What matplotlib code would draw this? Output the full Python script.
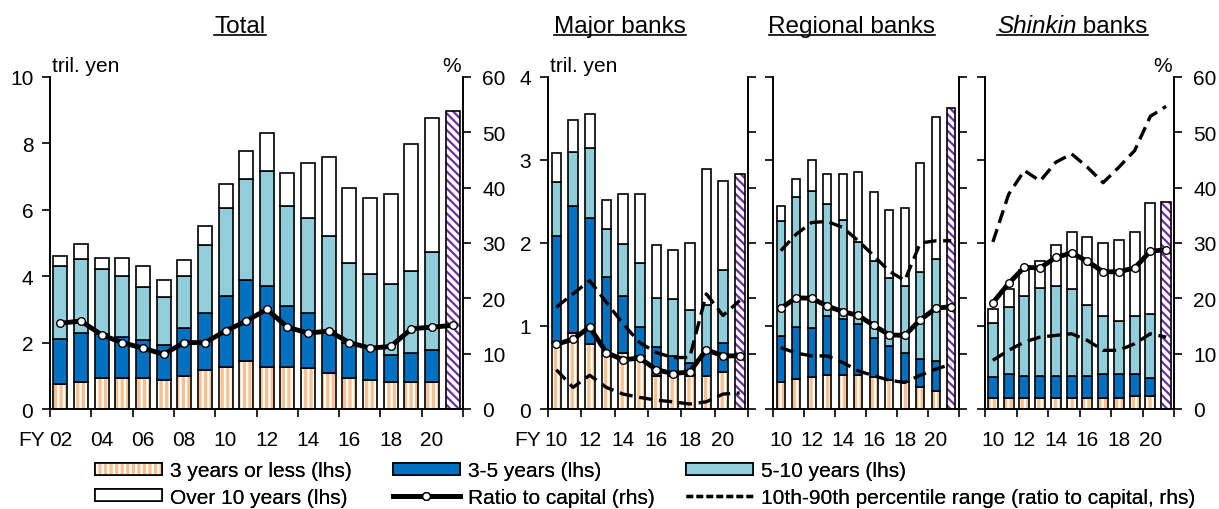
import matplotlib.pyplot as plt
import numpy as np
from matplotlib.patches import Patch
from matplotlib.lines import Line2D
from matplotlib import transforms

plt.rcParams['font.family'] = ['Liberation Sans', 'DejaVu Sans']
plt.rcParams['hatch.linewidth'] = 1.6

# ---- data (tril. yen, FY) ----
years_total = ['02', '03', '04', '05', '06', '07', '08', '09', '10', '11',
               '12', '13', '14', '15', '16', '17', '18', '19', '20', '21']
years_bank = ['10', '11', '12', '13', '14', '15', '16', '17', '18', '19', '20', '21']

# Total (FY02-FY20), FY21 is a single hatched bar
tot_3y = [0.76, 0.81, 0.93, 0.93, 0.93, 0.88, 0.99, 1.16, 1.27, 1.45, 1.27, 1.27, 1.22, 1.09, 0.93, 0.88, 0.81, 0.81, 0.81]
tot_3to5 = [1.34, 1.49, 1.32, 1.25, 1.15, 1.06, 1.44, 1.73, 2.12, 2.43, 2.43, 1.82, 1.66, 1.26, 1.07, 0.97, 0.83, 0.89, 0.96]
tot_5to10 = [2.20, 2.23, 1.97, 1.84, 1.59, 1.42, 1.57, 2.05, 2.66, 3.06, 3.46, 3.01, 2.87, 2.86, 2.41, 2.22, 2.13, 2.45, 2.97]
tot_over10 = [0.31, 0.43, 0.32, 0.52, 0.63, 0.54, 0.49, 0.56, 0.72, 0.82, 1.14, 1.01, 1.66, 2.38, 2.24, 2.28, 2.70, 3.84, 4.03]
tot_fy21 = 8.98
tot_ratio = [15.5, 15.9, 13.4, 12.0, 11.0, 9.9, 12.0, 12.0, 14.1, 15.9, 18.0, 14.8, 13.7, 14.1, 12.0, 11.0, 11.3, 14.5, 14.8, 15.1]

# Major banks (FY10-FY20), FY21 hatched
maj_3y = [0.80, 0.92, 0.78, 0.68, 0.67, 0.64, 0.40, 0.40, 0.40, 0.40, 0.45]
maj_3to5 = [1.29, 1.52, 1.52, 0.91, 0.69, 0.35, 0.35, 0.24, 0.15, 0.30, 0.34]
maj_5to10 = [0.65, 0.66, 0.85, 0.58, 0.63, 0.77, 0.59, 0.68, 0.64, 0.55, 0.88]
maj_over10 = [0.34, 0.38, 0.41, 0.35, 0.60, 0.83, 0.63, 0.60, 0.81, 1.64, 1.08]
maj_fy21 = 2.83
maj_ratio = [11.7, 12.6, 14.8, 10.2, 8.9, 9.2, 7.1, 6.4, 6.7, 10.7, 9.6, 9.6]
maj_p90 = [18.4, 20.8, 23.2, 19.3, 15.4, 12.0, 10.2, 9.3, 9.3, 20.8, 16.9, 19.6]
maj_p10 = [7.1, 3.9, 6.1, 3.9, 2.7, 2.1, 1.6, 1.3, 0.9, 1.3, 2.7, 2.9]

# Regional banks
reg_3y = [0.32, 0.36, 0.39, 0.41, 0.41, 0.41, 0.39, 0.35, 0.32, 0.27, 0.22]
reg_3to5 = [0.56, 0.63, 0.59, 0.71, 0.67, 0.61, 0.47, 0.41, 0.35, 0.33, 0.36]
reg_5to10 = [1.38, 1.57, 1.65, 1.35, 1.20, 0.99, 0.92, 0.82, 0.81, 1.05, 1.23]
reg_over10 = [0.18, 0.21, 0.37, 0.36, 0.55, 0.84, 0.83, 0.82, 0.94, 1.31, 1.71]
reg_fy21 = 3.63
reg_ratio = [18.2, 20.1, 20.0, 18.6, 17.6, 16.9, 15.1, 13.4, 13.3, 16.1, 18.2, 18.5]
reg_p90 = [28.6, 31.6, 33.7, 33.9, 32.8, 30.4, 27.7, 24.9, 23.2, 30.0, 30.4, 30.4]
reg_p10 = [11.1, 10.1, 9.6, 9.6, 8.4, 6.9, 6.0, 5.2, 4.8, 6.1, 7.2, 8.1]

# Shinkin banks
shi_3y = [0.13, 0.13, 0.13, 0.13, 0.13, 0.13, 0.13, 0.13, 0.13, 0.16, 0.16]
shi_3to5 = [0.26, 0.29, 0.27, 0.27, 0.27, 0.27, 0.27, 0.29, 0.29, 0.26, 0.21]
shi_5to10 = [0.65, 0.81, 0.96, 1.06, 1.08, 1.04, 0.85, 0.70, 0.64, 0.70, 0.77]
shi_over10 = [0.17, 0.22, 0.31, 0.32, 0.49, 0.69, 0.82, 0.88, 0.98, 1.01, 1.34]
shi_fy21 = 2.50
shi_ratio = [19.2, 22.7, 25.6, 25.5, 27.4, 28.2, 26.7, 24.8, 24.8, 25.5, 28.5, 28.8]
shi_p90 = [30.2, 38.8, 43.1, 41.2, 44.6, 46.1, 43.7, 40.9, 43.7, 46.7, 52.9, 54.7]
shi_p10 = [8.8, 10.6, 12.1, 13.0, 13.3, 13.6, 12.4, 10.6, 10.6, 11.8, 13.6, 13.0]

# ---- style ----
C_ORANGE = '#FAC090'
C_BLUE = '#0070C0'
C_LBLUE = '#92CDDC'
C_PURPLE = '#7030A0'
EDGE_LW = 1.2
FS_TICK = 15
FS_TITLE = 17.5
FS_LEG = 15
XPAD = 15

W, H = 1219, 510
fig = plt.figure(figsize=(W / 100, H / 100), dpi=100)


def rect(x0, x1, y0=78, y1=410):
    return [x0 / W, 1 - y1 / H, (x1 - x0) / W, (y1 - y0) / H]


def draw_panel(ax, years, s3, s35, s510, s10, fy21, ratio, width,
               p90=None, p10=None, left_labels=True, right_labels=False, fy=False):
    n = len(years)
    x = np.arange(n - 1)
    bottom = np.zeros(n - 1)
    # 3 years or less: striped orange
    ax.bar(x, s3, width, bottom=bottom, color=C_ORANGE, hatch='|||',
           edgecolor='white', linewidth=0, zorder=2)
    ax.bar(x, s3, width, bottom=bottom, color='none', edgecolor='black',
           linewidth=EDGE_LW, zorder=3)
    bottom += np.array(s3)
    for vals, col in [(s35, C_BLUE), (s510, C_LBLUE), (s10, 'white')]:
        ax.bar(x, vals, width, bottom=bottom, color=col, edgecolor='black',
               linewidth=EDGE_LW, zorder=3)
        bottom += np.array(vals)
    ax.bar([n - 1], [fy21], width, color='white', hatch='\\\\\\\\',
           edgecolor=C_PURPLE, linewidth=0, zorder=2)
    ax.bar([n - 1], [fy21], width, color='none', edgecolor='black',
           linewidth=EDGE_LW, zorder=3)

    ax.set_xlim(-0.5, n - 0.5)
    ax.set_xticks(np.arange(0, n - 1, 2))
    ax.set_xticklabels(years[0:n - 1:2])
    ax.set_xticks(np.arange(-0.5, n, 2), minor=True)
    ax.tick_params(axis='x', which='major', length=0, pad=XPAD, labelsize=FS_TICK)
    ax.tick_params(axis='x', which='minor', length=6, width=1.2, direction='out')
    ax.spines['top'].set_visible(False)
    for s in ['left', 'right', 'bottom']:
        ax.spines[s].set_linewidth(1.2)
    ax.tick_params(axis='y', length=6, width=1.2, labelsize=FS_TICK, pad=6,
                   labelleft=left_labels)
    if fy:
        ax.text(0, 0, 'FY', transform=transforms.offset_copy(
            ax.get_xaxis_transform(), fig=fig, x=-11, y=-XPAD, units='points'),
            ha='right', va='top', fontsize=FS_TICK)

    ax2 = ax.twinx()
    ax2.set_ylim(0, 60)
    ax2.set_yticks(range(0, 61, 10))
    ax2.spines['top'].set_visible(False)
    for s in ['left', 'right', 'bottom']:
        ax2.spines[s].set_linewidth(1.2)
    ax2.tick_params(axis='y', length=6, width=1.2, labelsize=FS_TICK, pad=8,
                    labelright=right_labels)
    xl = np.arange(n)
    if p90 is not None:
        ax2.plot(xl, p90, color='black', lw=2.4, dashes=(4, 2), zorder=4)
        ax2.plot(xl, p10, color='black', lw=2.4, dashes=(4, 2), zorder=4)
    ax2.plot(xl, ratio, color='black', lw=3.5, marker='o', markersize=5.5,
             markerfacecolor='white', markeredgecolor='black',
             markeredgewidth=1.0, zorder=5)
    return ax2


UNIT_Y = 1 + 11 / 332

# Total
ax1 = fig.add_axes(rect(50, 463))
ax1.set_ylim(0, 10)
ax1.set_yticks(range(0, 11, 2))
draw_panel(ax1, years_total, tot_3y, tot_3to5, tot_5to10, tot_over10,
           tot_fy21, tot_ratio, 0.68, right_labels=True, fy=True)
ax1.text(0.005, UNIT_Y, 'tril. yen', transform=ax1.transAxes, fontsize=FS_TICK, va='center')
ax1.text(0.995, UNIT_Y, '%', transform=ax1.transAxes, fontsize=FS_TICK, va='center', ha='right')

# Major banks
ax2 = fig.add_axes(rect(548, 748))
ax2.set_ylim(0, 4)
ax2.set_yticks(range(0, 5))
draw_panel(ax2, years_bank, maj_3y, maj_3to5, maj_5to10, maj_over10,
           maj_fy21, maj_ratio, 0.58, p90=maj_p90, p10=maj_p10, fy=True)
ax2.text(0.01, UNIT_Y, 'tril. yen', transform=ax2.transAxes, fontsize=FS_TICK, va='center')

# Regional banks
ax3 = fig.add_axes(rect(773, 959))
ax3.set_ylim(0, 4)
ax3.set_yticks(range(0, 5))
draw_panel(ax3, years_bank, reg_3y, reg_3to5, reg_5to10, reg_over10,
           reg_fy21, reg_ratio, 0.5, p90=reg_p90, p10=reg_p10, left_labels=False)

# Shinkin banks
ax4 = fig.add_axes(rect(985, 1174))
ax4.set_ylim(0, 4)
ax4.set_yticks(range(0, 5))
draw_panel(ax4, years_bank, shi_3y, shi_3to5, shi_5to10, shi_over10,
           shi_fy21, shi_ratio, 0.62, p90=shi_p90, p10=shi_p10,
           left_labels=False, right_labels=True)
ax4.text(0.99, UNIT_Y, '%', transform=ax4.transAxes, fontsize=FS_TICK, va='center', ha='right')

# ---- underlined panel titles ----
fig.canvas.draw()
renderer = fig.canvas.get_renderer()
ty = 1 - 33 / H


def underline(texts):
    boxes = [t.get_window_extent(renderer) for t in texts]
    x0 = min(b.x0 for b in boxes)
    x1 = max(b.x1 for b in boxes)
    yb = (H - 36) / H
    fig.add_artist(Line2D([x0 / W, x1 / W], [yb, yb], transform=fig.transFigure,
                          color='black', lw=1.2))


for label, cx in [('Total', 240), ('Major banks', 620), ('Regional banks', 852)]:
    t = fig.text(cx / W, ty, label, ha='center', va='baseline', fontsize=FS_TITLE)
    underline([t])

t1 = fig.text(997 / W, ty, 'Shinkin', ha='left', va='baseline', fontsize=FS_TITLE, style='italic')
b1 = t1.get_window_extent(renderer)
t2 = fig.text(b1.x1 / W, ty, ' banks', ha='left', va='baseline', fontsize=FS_TITLE)
underline([t1, t2])

# ---- legend: three columns placed at fixed positions ----
h_3y = (Patch(facecolor=C_ORANGE, hatch='|||', edgecolor='white', linewidth=0),
        Patch(facecolor='none', edgecolor='black', linewidth=EDGE_LW))
h_35 = Patch(facecolor=C_BLUE, edgecolor='black', linewidth=EDGE_LW)
h_510 = Patch(facecolor=C_LBLUE, edgecolor='black', linewidth=EDGE_LW)
h_10 = Patch(facecolor='white', edgecolor='black', linewidth=EDGE_LW)
h_ratio = Line2D([], [], color='black', lw=3.5, marker='o', markersize=5.5,
                 markerfacecolor='white', markeredgecolor='black', markevery=[1])
h_pct = Line2D([], [], color='black', lw=2.4, dashes=(2, 1))

columns = [
    (95, [h_3y, h_10], ['3 years or less (lhs)', 'Over 10 years (lhs)']),
    (393, [h_35, h_ratio], ['3-5 years (lhs)', 'Ratio to capital (rhs)']),
    (686, [h_510, h_pct], ['5-10 years (lhs)', '10th-90th percentile range (ratio to capital, rhs)']),
]
for xpos, hs, ls in columns:
    leg = fig.legend(hs, ls, loc='center left', bbox_to_anchor=(xpos / W, 1 - 485 / H),
                     frameon=False, fontsize=FS_LEG, handlelength=3.2, handleheight=0.5,
                     handletextpad=0.4, labelspacing=0.35, borderpad=0, borderaxespad=0)
    fig.add_artist(leg)

fig.savefig('out.png', dpi=100)
